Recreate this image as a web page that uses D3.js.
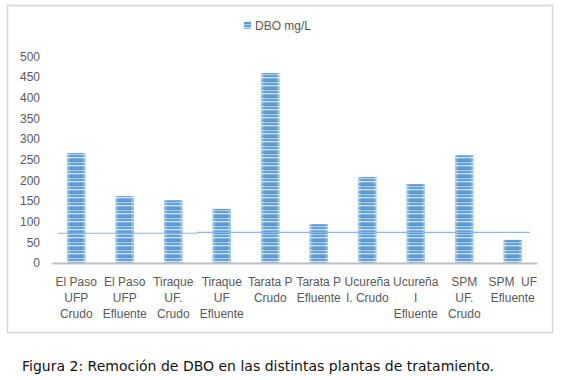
<!DOCTYPE html>
<html>
<head>
<meta charset="utf-8">
<script src="https://cdn.jsdelivr.net/npm/d3@7"></script>
<style>
  body { margin: 0; background: #ffffff; }
  svg { display: block; }
</style>
</head>
<body>
<svg id="chart"></svg>
<script>
// data
var categorias = [
    ["El Paso", "UFP", "Crudo"],
    ["El Paso", "UFP", "Efluente"],
    ["Tiraque", "UF.", "Crudo"],
    ["Tiraque", "UF", "Efluente"],
    ["Tarata P", "Crudo"],
    ["Tarata P", "Efluente"],
    ["Ucureña", "I. Crudo"],
    ["Ucureña", "I", "Efluente"],
    ["SPM", "UF.", "Crudo"],
    ["SPM  UF", "Efluente"]
];
var dbo = [266, 162, 152, 131, 460, 94, 208, 191, 261, 56];
var limite = [72, 72, 72, 74, 74, 74, 74, 74, 74, 74];
var yTicks = [0, 50, 100, 150, 200, 250, 300, 350, 400, 450, 500];
var serie = "DBO mg/L";
var titulo = "Figura 2: Remoción de DBO en las distintas plantas de tratamiento.";

var svgWidth = 561;
var svgHeight = 380;

var svg = d3.select("#chart")
    .attr("width", svgWidth)
    .attr("height", svgHeight);

// striped fill like the excel pattern
var defs = svg.append("defs");
var pat = defs.append("pattern")
    .attr("id", "rayas")
    .attr("patternUnits", "userSpaceOnUse")
    .attr("width", 4)
    .attr("height", 8);
var rayas = ["#5b9bd5", "#5b9bd5", "#a9cbeb", "#6aa5dc", "#5b9bd5", "#d2e4f5", "#7fb1e1", "#5b9bd5"];
rayas.forEach(function(c, i) {
    pat.append("rect").attr("x", 0).attr("y", i).attr("width", 4).attr("height", 1).attr("fill", c);
});
var grad = defs.append("linearGradient").attr("id", "brillo")
    .attr("x1", "0%").attr("x2", "100%").attr("y1", "0%").attr("y2", "0%");
grad.append("stop").attr("offset", "0%").attr("stop-color", "#fff").attr("stop-opacity", 0.4);
grad.append("stop").attr("offset", "20%").attr("stop-color", "#fff").attr("stop-opacity", 0);
grad.append("stop").attr("offset", "80%").attr("stop-color", "#fff").attr("stop-opacity", 0);
grad.append("stop").attr("offset", "100%").attr("stop-color", "#fff").attr("stop-opacity", 0.4);

// chart frame
svg.append("rect")
    .attr("x", 7.5).attr("y", 5.5)
    .attr("width", 545).attr("height", 327)
    .attr("fill", "none")
    .attr("stroke", "#d4d4d4")
    .attr("stroke-width", 1.5);

var xScale = d3.scaleBand()
    .domain(d3.range(categorias.length))
    .range([52, 537])
    .paddingInner(0.62)
    .paddingOuter(0.31);

var yScale = d3.scaleLinear()
    .domain([0, 500])
    .range([263, 56.5]);

var yAxis = d3.axisLeft(yScale)
    .tickValues(yTicks)
    .tickSize(0)
    .tickPadding(12);

var gy = svg.append("g")
    .attr("transform", "translate(52, 0)")
    .call(yAxis);
gy.select(".domain").remove();
gy.selectAll("text")
    .attr("fill", "#595959")
    .style("font-family", "Liberation Sans, Arial, sans-serif")
    .style("font-size", "12px");

// bars
var barras = svg.selectAll(".barra")
    .data(dbo)
    .enter()
    .append("g")
    .attr("class", "barra");
barras.append("rect")
    .attr("x", function(d, i) { return xScale(i); })
    .attr("y", function(d) { return yScale(d); })
    .attr("width", xScale.bandwidth())
    .attr("height", function(d) { return yScale(0) - yScale(d); })
    .attr("fill", "url(#rayas)");
barras.append("rect")
    .attr("x", function(d, i) { return xScale(i); })
    .attr("y", function(d) { return yScale(d); })
    .attr("width", xScale.bandwidth())
    .attr("height", function(d) { return yScale(0) - yScale(d); })
    .attr("fill", "url(#brillo)");

// reference line
var step = xScale.step();
var x0 = 52;
var lineaPts = [];
limite.forEach(function(v, i) {
    var a = x0 + i * step, b = a + step;
    if (i === 0) a += 6;
    if (i === limite.length - 1) b -= 7;
    lineaPts.push([a, yScale(v)]);
    lineaPts.push([b, yScale(v)]);
});
svg.append("path")
    .attr("d", d3.line()(lineaPts))
    .attr("fill", "none")
    .attr("stroke", "#8db9e4")
    .attr("stroke-width", 1.2);

// x axis baseline
var xAxis = d3.axisBottom(xScale).tickSize(0).tickFormat("");
var gx = svg.append("g")
    .attr("transform", "translate(0, 263)")
    .call(xAxis);
gx.select(".domain")
    .attr("stroke", "#bfbfbf")
    .attr("stroke-width", 2);

// category labels
var etiquetas = svg.selectAll(".etiqueta")
    .data(categorias)
    .enter()
    .append("text")
    .attr("class", "etiqueta")
    .attr("text-anchor", "middle")
    .attr("fill", "#595959")
    .style("font-family", "Liberation Sans, Arial, sans-serif")
    .style("font-size", "12px")
    .attr("transform", function(d, i) {
        return "translate(" + (xScale(i) + xScale.bandwidth() / 2) + ", 286)";
    });
etiquetas.selectAll("tspan")
    .data(function(d) { return d; })
    .enter()
    .append("tspan")
    .attr("x", 0)
    .attr("y", function(d, j) { return j * 16; })
    .style("white-space", "pre")
    .text(function(d) { return d; });

// legend
var leyenda = svg.append("g").attr("transform", "translate(244, 22)");
leyenda.append("rect")
    .attr("width", 7).attr("height", 7)
    .attr("fill", "url(#rayas)");
leyenda.append("text")
    .attr("x", 11).attr("y", 8)
    .attr("fill", "#595959")
    .style("font-family", "Liberation Sans, Arial, sans-serif")
    .style("font-size", "12px")
    .text(serie);

// caption
svg.append("text")
    .attr("x", 22).attr("y", 371)
    .attr("fill", "#111")
    .style("font-family", "DejaVu Sans, sans-serif")
    .style("font-size", "14px")
    .text(titulo);
</script>
</body>
</html>
